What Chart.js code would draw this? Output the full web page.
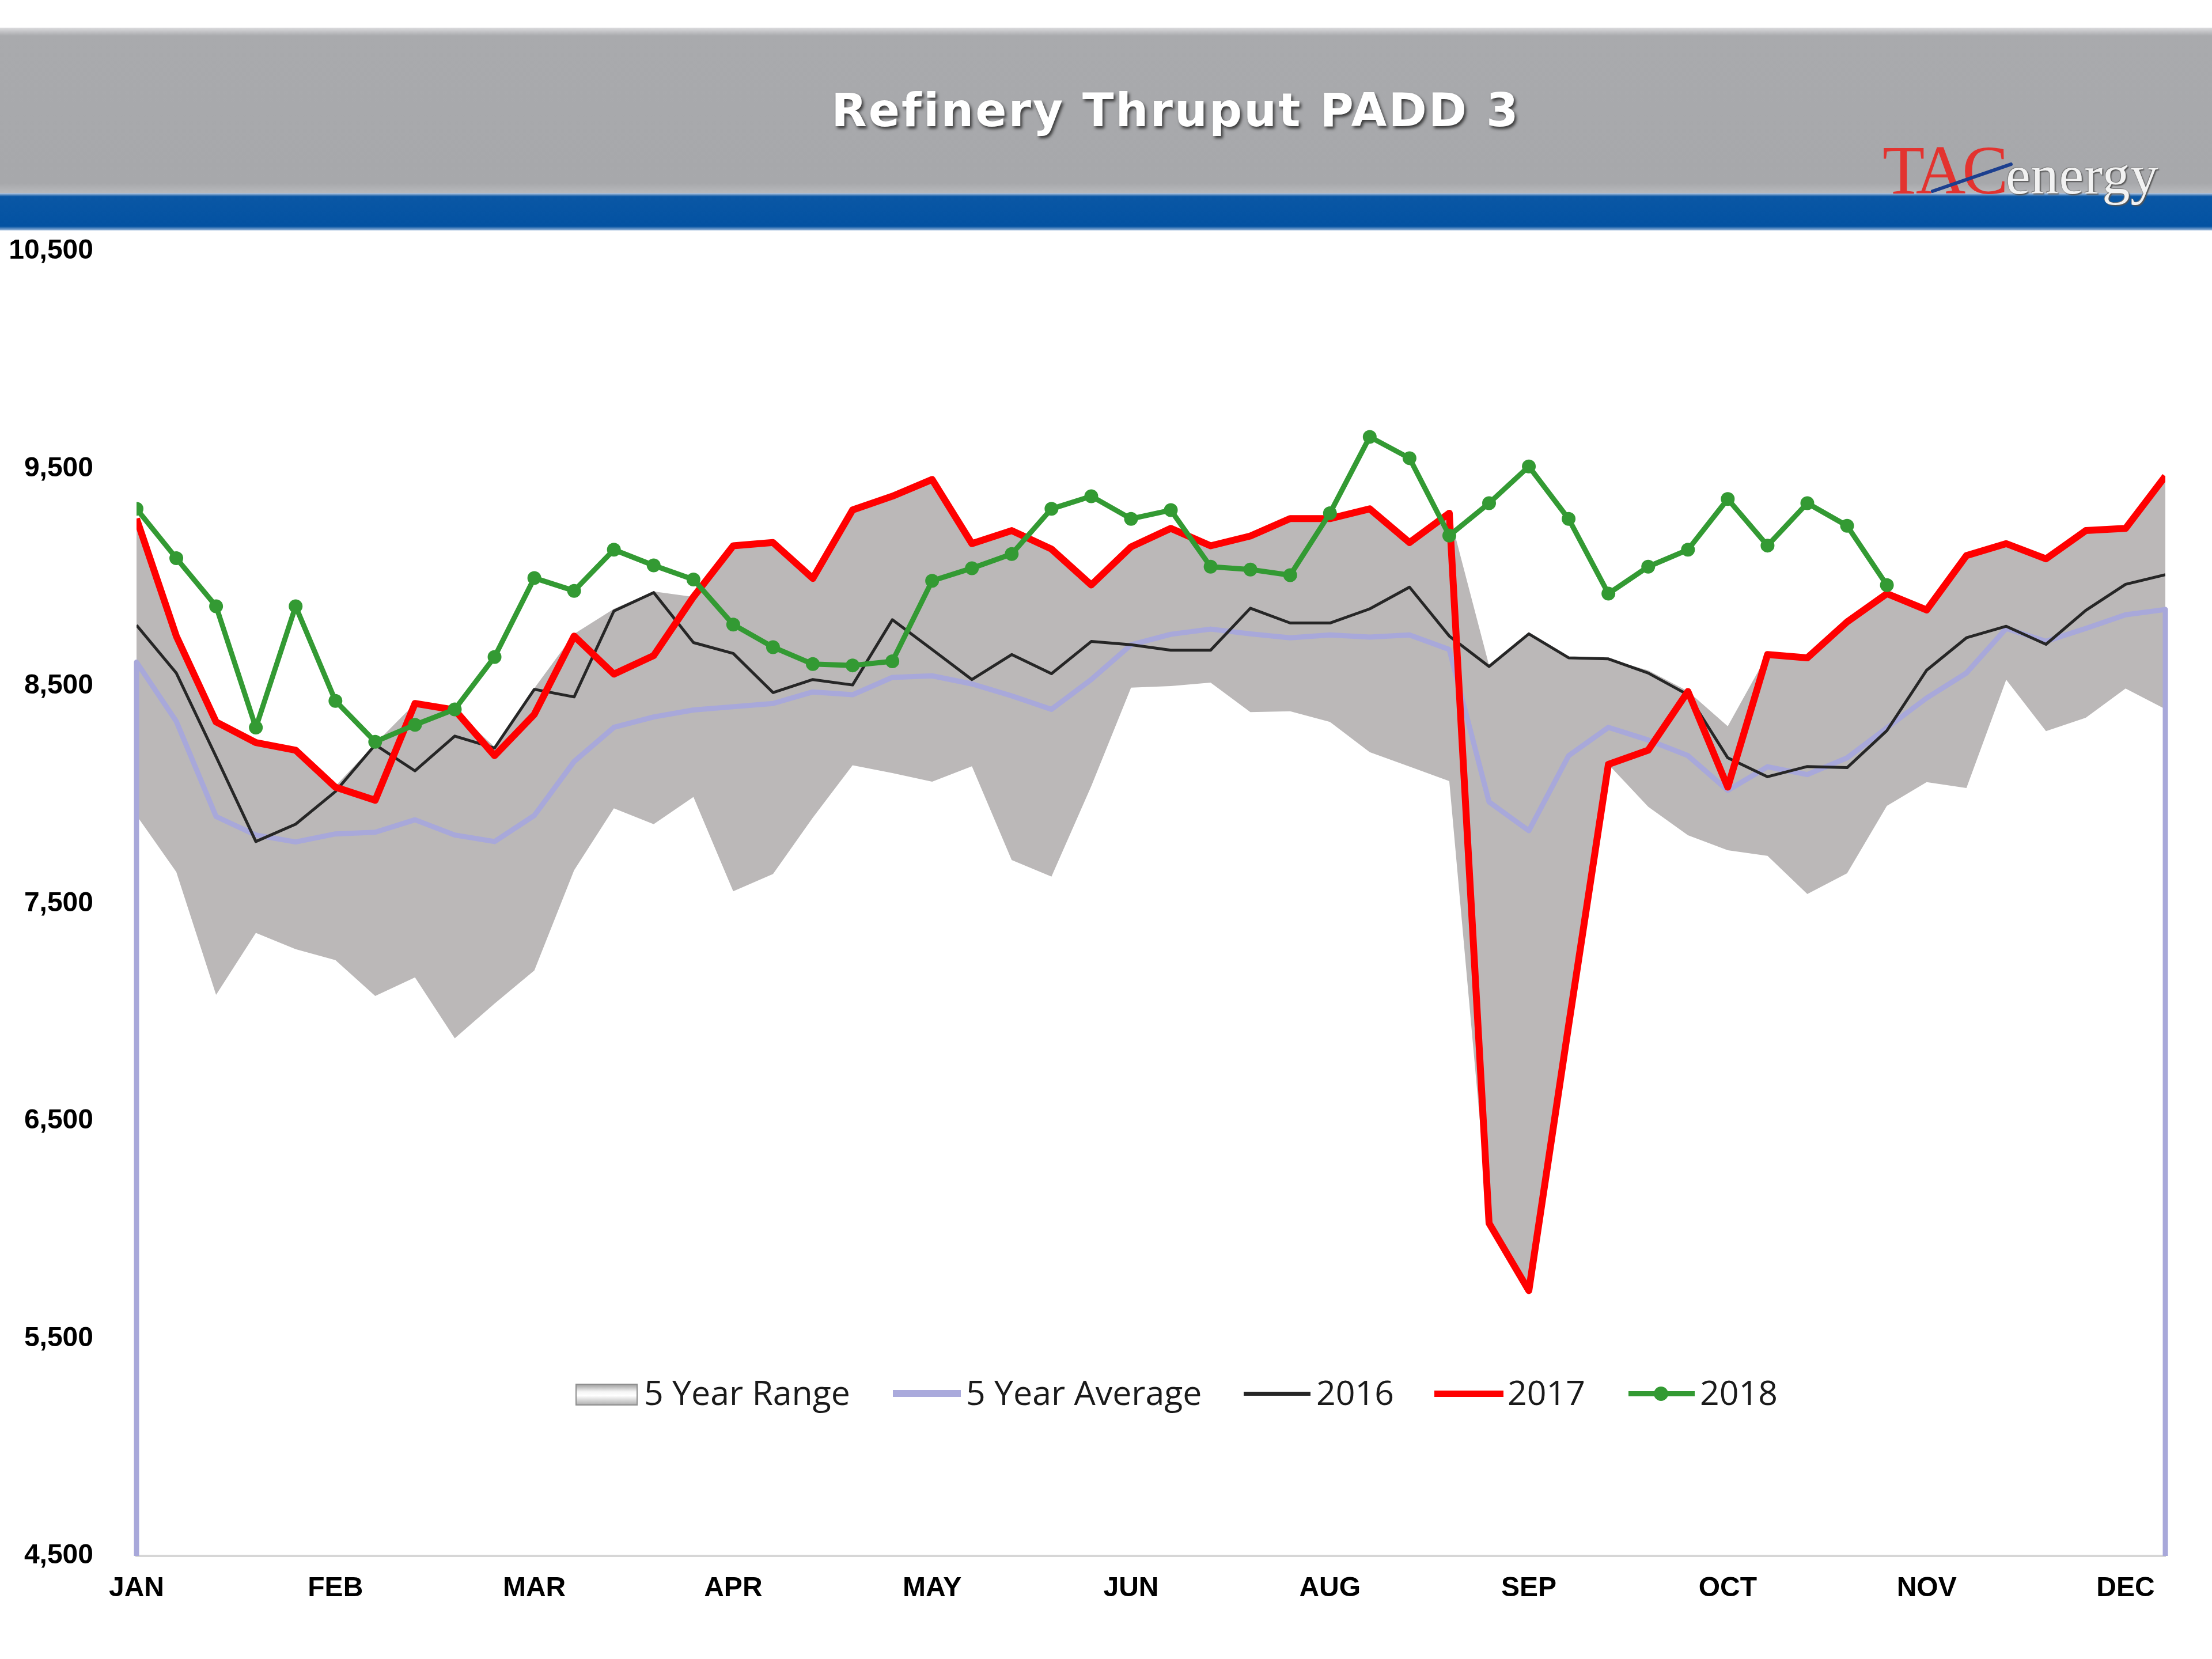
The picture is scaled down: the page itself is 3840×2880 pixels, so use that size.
<!DOCTYPE html>
<html><head><meta charset="utf-8">
<script src="https://cdn.jsdelivr.net/npm/chart.js@4.4.1/dist/chart.umd.min.js"></script>
<style>
html,body{margin:0;padding:0;background:#fff;}
body{width:3840px;height:2880px;position:relative;overflow:hidden;}
#topband{position:absolute;left:0;top:48px;width:3840px;height:287px;background:linear-gradient(to bottom,#dcdcde 0px,#a9aaad 14px,#a7a8ab 270px,#b8b9bc 287px);}
#blueband{position:absolute;left:0;top:335px;width:3840px;height:65px;background:linear-gradient(to bottom,#bfcde2 0px,#0a57a5 6px,#0352a2 58px,#9db9dc 65px);}
#title{position:absolute;left:0;top:152px;width:4082px;text-align:center;font-family:"DejaVu Sans",Verdana,sans-serif;font-weight:bold;font-size:80px;line-height:80px;letter-spacing:3px;color:#fff;text-shadow:3px 4px 5px rgba(40,40,40,0.85);white-space:nowrap;}
#tac{position:absolute;left:3268px;top:236px;font-family:"Liberation Serif","Times New Roman",serif;font-size:120px;line-height:120px;color:#e3332f;letter-spacing:-6px;white-space:nowrap;}
#energy{position:absolute;left:3482px;top:256px;font-family:"Liberation Serif","Times New Roman",serif;font-size:96px;line-height:96px;color:#f2f2f2;letter-spacing:1px;text-shadow:2px 2px 2px #555,-1px -1px 1px #777;white-space:nowrap;}
#swoosh{position:absolute;left:3352px;top:330px;width:150px;height:6px;background:#1c3f8f;transform:rotate(-19deg);transform-origin:left center;border-radius:3px;}
#c{position:absolute;left:0;top:400px;}
.lt{position:absolute;top:2387px;font-family:"Open Sans",sans-serif;font-size:59px;line-height:59px;color:#1a1a1a;white-space:nowrap;}
.ll{position:absolute;}
</style></head>
<body>
<div id="topband"></div>
<div id="blueband"></div>
<div id="title">Refinery Thruput PADD 3</div>
<div id="tac">TAC</div>
<div id="energy">energy</div>
<div id="swoosh"></div>
<canvas id="c" width="3840" height="2480"></canvas>

<div class="ll" style="left:999px;top:2402px;width:104px;height:34px;border:2px solid #8e8e8e;background:linear-gradient(#a4a4a4,#f5f5f5 35%,#ffffff 55%,#b3b3b3);"></div>
<div class="lt" style="left:1118px">5 Year Range</div>
<div class="ll" style="left:1550px;top:2413px;width:118px;height:12px;background:#aaaadc;"></div>
<div class="lt" style="left:1677px">5 Year Average</div>
<div class="ll" style="left:2159px;top:2416px;width:116px;height:7px;background:#262626;"></div>
<div class="lt" style="left:2285px">2016</div>
<div class="ll" style="left:2490px;top:2414px;width:120px;height:11px;background:#ff0000;"></div>
<div class="lt" style="left:2617px">2017</div>
<div class="ll" style="left:2827px;top:2415px;width:115px;height:9px;background:#339a33;"></div>
<div class="ll" style="left:2871px;top:2407px;width:25px;height:25px;border-radius:50%;background:#339a33;"></div>
<div class="lt" style="left:2951px">2018</div>

<script>
// ---- data (thousand b/d, weekly) ----
const monthTicks = ['JAN','FEB','MAR','APR','MAY','JUN','AUG','SEP','OCT','NOV','DEC'];
const yTicks = [4500,5500,6500,7500,8500,9500,10500];

const range5High = [9270,8730,8340,8240,8205,8040,8235,8420,8390,8220,8490,8740,8855,8935,8910,9145,9160,8990,9310,9373,9450,9155,9215,9130,8960,9140,9225,9145,9190,9270,9270,9315,9160,9295,8595,8740,8630,8625,8572,8476,8315,8645,8630,8795,8925,8850,9100,9155,9085,9215,9225,9465];
const range5Low = [7905,7645,7080,7365,7290,7240,7075,7160,6880,7040,7192,7653,7938,7865,7990,7556,7636,7895,8136,8100,8060,8131,7700,7624,8040,8493,8500,8516,8380,8384,8335,8196,8130,8063,6030,5720,6940,8140,7945,7814,7745,7719,7544,7639,7949,8058,8031,8529,8293,8354,8489,8394];
const avg5 = [8610,8338,7900,7815,7783,7820,7828,7885,7815,7785,7905,8153,8310,8358,8390,8405,8420,8473,8460,8540,8547,8510,8455,8393,8530,8690,8738,8762,8740,8722,8735,8725,8735,8668,7967,7835,8180,8310,8252,8180,8020,8129,8093,8170,8308,8445,8560,8765,8706,8765,8828,8852];
const y2016 = [8780,8560,8175,7785,7865,8015,8230,8110,8270,8215,8485,8450,8845,8930,8700,8650,8470,8530,8505,8805,8668,8530,8645,8557,8705,8690,8665,8665,8858,8790,8790,8855,8955,8730,8590,8740,8630,8625,8560,8460,8170,8083,8130,8125,8295,8573,8722,8775,8692,8848,8968,9012];
const y2017 = [9270,8730,8335,8240,8205,8035,7975,8420,8390,8180,8370,8730,8555,8640,8910,9145,9160,8995,9310,9373,9450,9155,9215,9130,8965,9140,9225,9145,9190,9270,9270,9315,9160,9295,6030,5720,6940,8140,8205,8475,8035,8645,8630,8795,8925,8850,9100,9155,9085,9215,9225,9465];
const y2018 = [9315,9088,8867,8309,8867,8432,8244,8322,8393,8634,8997,8938,9127,9055,8990,8783,8679,8601,8595,8614,8984,9042,9107,9315,9373,9269,9309,9049,9036,9010,9295,9646,9548,9192,9341,9510,9269,8925,9049,9127,9360,9146,9341,9237,8964];

const toXY = arr => arr.map((v, i) => ({x: i, y: v}));
const lastWeek = avg5.length - 1;
// Excel draws the 5-year average dropping to the axis floor at both ends
const avgData = [{x: 0, y: yTicks[0]}, ...toXY(avg5), {x: lastWeek, y: yTicks[0]}];

const tickFont = {family: "'Liberation Sans', Arial, sans-serif", weight: 'bold', size: 48};

new Chart(document.getElementById('c').getContext('2d'), {
  type: 'line',
  data: {
    datasets: [
      {label: '2018', data: toXY(y2018), borderColor: '#339a33', backgroundColor: '#339a33', borderWidth: 9,
       pointRadius: 12, pointBackgroundColor: '#339a33', pointBorderWidth: 0, fill: false},
      {label: '2017', data: toXY(y2017), borderColor: '#ff0000', borderWidth: 12, pointRadius: 0, fill: false},
      {label: '2016', data: toXY(y2016), borderColor: '#262626', borderWidth: 5, pointRadius: 0, fill: false},
      {label: '5 Year Average', data: avgData, borderColor: '#a8a8da', borderWidth: 9, pointRadius: 0, fill: false,
       clip: {left: 8, right: 8, top: 8, bottom: 0}},
      {label: '5 Year Range', data: toXY(range5High), borderWidth: 0, borderColor: 'rgba(0,0,0,0)', pointRadius: 0,
       backgroundColor: '#bbb8b8', fill: '+1'},
      {label: '5 Year Range (low)', data: toXY(range5Low), borderWidth: 0, borderColor: 'rgba(0,0,0,0)', pointRadius: 0, fill: false}
    ]
  },
  options: {
    responsive: false, animation: false, devicePixelRatio: 1, events: [],
    layout: {padding: {left: 0, right: 81, top: 36, bottom: 0}},
    plugins: {legend: {display: false}, tooltip: {enabled: false}},
    elements: {line: {tension: 0, borderJoinStyle: 'round', borderCapStyle: 'butt'}},
    scales: {
      x: {
        type: 'linear', min: 0, max: lastWeek,
        grid: {display: false, drawTicks: false},
        border: {display: true, color: '#d6d6d6', width: 4},
        afterFit(s) { s.height = 179; },
        afterBuildTicks(s) { s.ticks = monthTicks.map((m, k) => ({value: k * 5})); },
        ticks: {autoSkip: false, maxRotation: 0, padding: 28, color: '#000', font: tickFont,
                callback: v => monthTicks[Math.round(v / 5)] || ''}
      },
      y: {
        min: yTicks[0], max: yTicks[yTicks.length - 1],
        afterFit(s) { s.width = 237; s.paddingTop = 30; s.paddingBottom = 0; },
        afterBuildTicks(s) { s.ticks = yTicks.map(v => ({value: v})); },
        grid: {display: false, drawTicks: false},
        border: {display: false},
        ticks: {padding: 75, color: '#000', font: tickFont, callback: v => v.toLocaleString('en-US')}
      }
    }
  }
});
</script>
</body></html>
